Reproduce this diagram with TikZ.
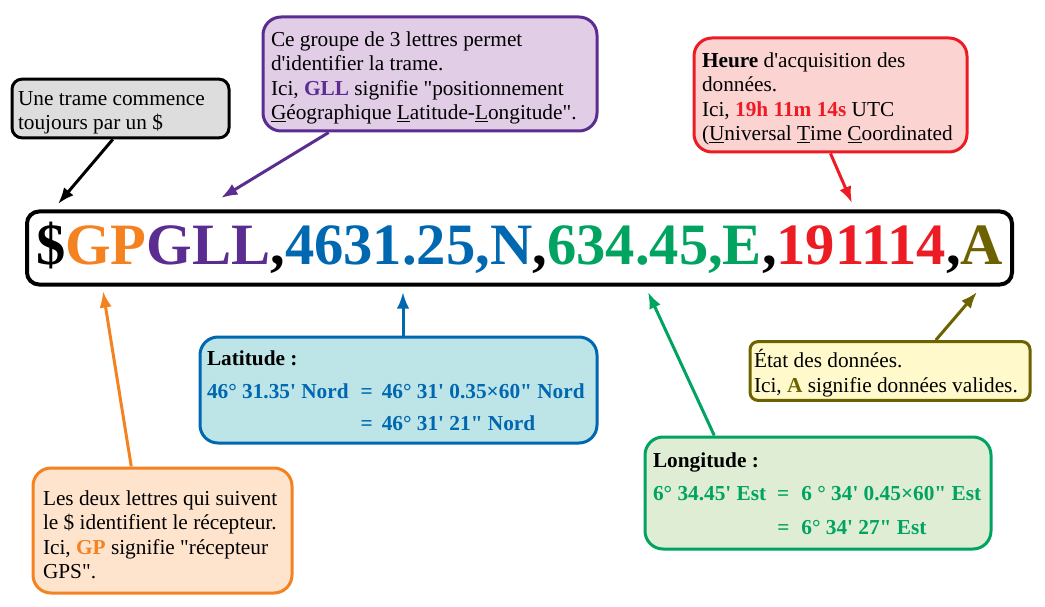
\documentclass[tikz,border=0pt]{standalone}
\usepackage{fontspec}
\setmainfont{Liberation Serif}[Ligatures=TeXOff]
\usepackage{xcolor}
\usepackage{tikz}
\usetikzlibrary{arrows.meta, positioning, calc}

\definecolor{orangeGP}{HTML}{F58220}
\definecolor{violetGLL}{HTML}{5C2D91}
\definecolor{bleuLat}{HTML}{0067B1}
\definecolor{vertLon}{HTML}{00A360}
\definecolor{rougeH}{HTML}{ED1C24}
\definecolor{oliveA}{HTML}{6D6200}
\definecolor{grisfond}{HTML}{DDDDDD}
\definecolor{violetfond}{HTML}{E1CDE6}
\definecolor{rougefond}{HTML}{FBD4D2}
\definecolor{bleufond}{HTML}{BDE4E6}
\definecolor{vertfond}{HTML}{DFEDD5}
\definecolor{jaunefond}{HTML}{FFF9CC}
\definecolor{orangefond}{HTML}{FEE3CD}

\begin{document}
\begin{tikzpicture}[x=1pt, y=-1pt,
    bulle/.style={draw, line width=3pt, rounded corners=18pt, align=flush left,
      font=\fontsize{21.3}{24.5}\selectfont,
      execute at begin node={\spaceskip=0pt\xspaceskip=0pt\rule{0pt}{23pt}}},
    fleche/.style={-{Latex}, line width=3pt}]
      \useasboundingbox (0,0) rectangle (1045,607);

      % la trame
      \node[draw, line width=4pt, rounded corners=12pt, minimum width=985pt, minimum height=73pt,
        inner sep=0pt, font=\fontsize{58.6}{60}\selectfont\bfseries] (trame) at (519.5,248)
        {\$\textcolor{orangeGP}{GP}\textcolor{violetGLL}{GLL},\textcolor{bleuLat}{4631.25,N},\textcolor{vertLon}{634.45,E},\textcolor{rougeH}{191114},\textcolor{oliveA}{A}};

      % les bulles
      \node[bulle, rounded corners=10pt, fill=grisfond, text width=205pt, inner xsep=6pt, minimum height=57pt] (gris) at (120.5,108.5)
        {Une trame commence\\toujours par un \$};
      \node[bulle, draw=violetGLL, fill=violetfond, text width=318pt, inner xsep=8pt, minimum height=114pt] (violet) at (430,74)
        {Ce groupe de 3 lettres permet\\d'identifier la trame.\\Ici, \textcolor{violetGLL}{\textbf{GLL}} signifie "positionnement\\\underline{G}éographique \underline{L}atitude-\underline{L}ongitude".};
      \node[bulle, draw=rougeH, fill=rougefond, text width=257pt, inner xsep=8pt, minimum height=114pt] (rouge) at (830.5,95)
        {\textbf{Heure} d'acquisition des\\données.\\Ici, \textcolor{rougeH}{\textbf{19h 11m 14s}} UTC\\(\underline{U}niversal \underline{T}ime \underline{C}oordinated};
      \node[bulle, draw=bleuLat, fill=bleufond, text width=383pt, inner xsep=7pt, minimum height=106pt] (bleu) at (398.5,390)
        {\textbf{Latitude :}\\[9pt]{\bfseries\color{bleuLat}\begin{tabular}[t]{@{}l@{\hspace{12pt}}l@{\hspace{9pt}}l@{}}
          46° 31.35' Nord & = & 46° 31' 0.35×60" Nord\\[7.5pt]
           & = & 46° 31' 21" Nord\end{tabular}}};
      \node[bulle, draw=vertLon, fill=vertfond, text width=330pt, inner xsep=8pt, minimum height=112pt] (vert) at (818,493)
        {\textbf{Longitude :}\\[9pt]{\bfseries\color{vertLon}\begin{tabular}[t]{@{}l@{\hspace{11pt}}l@{\hspace{12pt}}l@{}}
          6° 34.45' Est & = & 6 ° 34' 0.45×60" Est\\[9pt]
           & = & 6° 34' 27" Est\end{tabular}}};
      \node[bulle, rounded corners=8pt, draw=oliveA, fill=jaunefond, text width=272pt, inner xsep=4pt, minimum height=54pt] (jaune) at (890,371)
        {État des données.\\Ici, \textcolor{oliveA}{\textbf{A}} signifie données valides.};
      \node[bulle, draw=orangeGP, fill=orangefond, text width=239pt, inner xsep=10pt, minimum height=125pt] (orange) at (162.5,530.5)
        {Les deux lettres qui suivent\\le \$ identifient le récepteur.\\Ici, \textcolor{orangeGP}{\textbf{GP}} signifie "récepteur\\GPS".};

      % les cibles des fleches
      \coordinate (cDollar) at (58,204);
      \coordinate (cGLL) at (221,198);
      \coordinate (cHeure) at (852,203);
      \coordinate (cLat) at (403,292);
      \coordinate (cLon) at (648,292);
      \coordinate (cEtat) at (977,292);
      \coordinate (cGP) at (103,291);

      \draw[fleche] (gris.256) -- (cDollar);
      \draw[fleche, violetGLL] (violet.210) -- (cGLL);
      \draw[fleche, rougeH] (rouge.south) -- (cHeure);
      \draw[fleche, bleuLat] (cLat |- bleu.north) -- (cLat);
      \draw[fleche, vertLon] (vert.151) -- (cLon);
      \draw[fleche, oliveA] (jaune.34) -- (cEtat);
      \draw[fleche, orangeGP] (orange.116) -- (cGP);

    \end{tikzpicture}
\end{document}
